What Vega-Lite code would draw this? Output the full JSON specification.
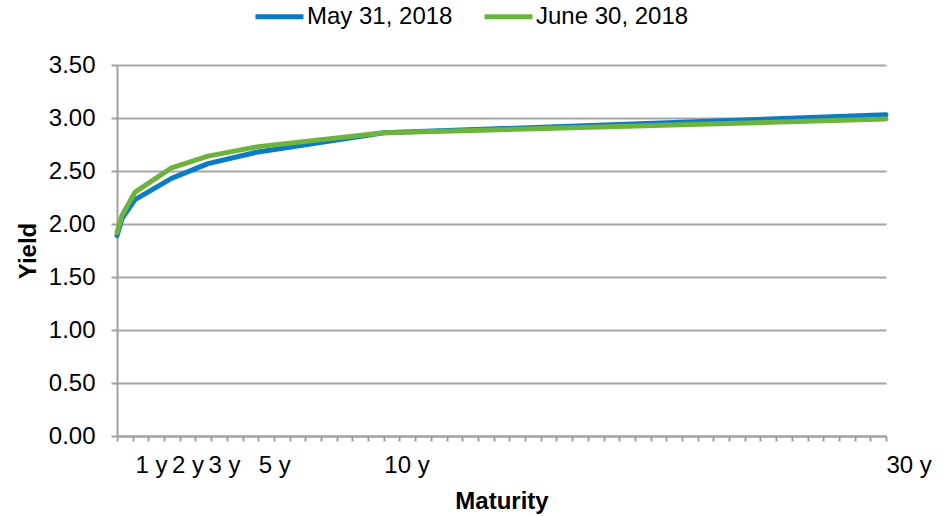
{
  "$schema": "https://vega.github.io/schema/vega-lite/v6.json",
  "width": 769,
  "height": 371,
  "autosize": {"type": "none"},
  "padding": {"left": 117, "top": 65, "right": 59, "bottom": 80},
  "background": "white",
  "config": {
    "view": {"stroke": null},
    "font": "Liberation Sans"
  },
  "data": {
    "values": [
      {"series": "May 31, 2018", "maturity": 0.25, "yield": 1.89},
      {"series": "May 31, 2018", "maturity": 0.5, "yield": 2.05},
      {"series": "May 31, 2018", "maturity": 1, "yield": 2.23},
      {"series": "May 31, 2018", "maturity": 2, "yield": 2.43},
      {"series": "May 31, 2018", "maturity": 3, "yield": 2.57},
      {"series": "May 31, 2018", "maturity": 5, "yield": 2.68},
      {"series": "May 31, 2018", "maturity": 10, "yield": 2.86},
      {"series": "May 31, 2018", "maturity": 30, "yield": 3.03},
      {"series": "June 30, 2018", "maturity": 0.25, "yield": 1.92},
      {"series": "June 30, 2018", "maturity": 0.5, "yield": 2.08},
      {"series": "June 30, 2018", "maturity": 1, "yield": 2.30},
      {"series": "June 30, 2018", "maturity": 2, "yield": 2.53},
      {"series": "June 30, 2018", "maturity": 3, "yield": 2.64},
      {"series": "June 30, 2018", "maturity": 5, "yield": 2.73},
      {"series": "June 30, 2018", "maturity": 10, "yield": 2.86},
      {"series": "June 30, 2018", "maturity": 30, "yield": 2.99}
    ]
  },
  "mark": {"type": "line", "strokeWidth": 5, "strokeJoin": "round", "strokeCap": "round"},
  "encoding": {
    "x": {
      "field": "maturity",
      "type": "quantitative",
      "scale": {"domain": [0.25, 0.5, 1, 3, 30], "range": [0, 5, 18, 91, 769], "nice": false, "zero": false},
      "axis": {
        "title": "Maturity",
        "titleFont": "Liberation Sans",
        "titleFontSize": 24,
        "titleFontWeight": "bold",
        "titleColor": "#000000",
        "titleX": 384.5,
        "titleY": 72,
        "titleAlign": "center",
        "titleBaseline": "alphabetic",
        "values": [0.25, 0.9113, 1, 1.3668, 1.7968, 2, 2.2267, 2.6567, 3, 3.125, 3.75, 4.375, 5, 5.625, 6.25, 6.875, 7.5, 8.125, 8.75, 9.375, 10, 10.625, 11.25, 11.875, 12.5, 13.125, 13.75, 14.375, 15, 15.625, 16.25, 16.875, 17.5, 18.125, 18.75, 19.375, 20, 20.625, 21.25, 21.875, 22.5, 23.125, 23.75, 24.375, 25, 25.625, 26.25, 26.875, 27.5, 28.125, 28.75, 29.375, 30],
        "labelExpr": "indexof([1,2,3,5,10,30], datum.value) >= 0 ? datum.value + ' y' : ''",
        "labelAlign": "left",
        "labelFlush": false,
        "labelOverlap": false,
        "labelBound": false,
        "labelFont": "Liberation Sans",
        "labelFontSize": 24,
        "labelColor": "#000000",
        "labelPadding": 12,
        "grid": false,
        "domainColor": "#a0a0a0",
        "domainWidth": 2,
        "tickColor": "#a0a0a0",
        "tickWidth": 2,
        "tickSize": 5,
        "tickOpacity": {"condition": {"test": "datum.value == 1 || datum.value == 2 || datum.value == 3", "value": 0}, "value": 1}
      }
    },
    "y": {
      "field": "yield",
      "type": "quantitative",
      "scale": {"domain": [0, 3.5], "nice": false},
      "axis": {
        "title": "Yield",
        "titleFont": "Liberation Sans",
        "titleFontSize": 24,
        "titleFontWeight": "bold",
        "titleColor": "#000000",
        "titleAngle": 270,
        "titleX": -82,
        "titleY": 185.5,
        "titleAlign": "center",
        "titleBaseline": "alphabetic",
        "values": [0, 0.5, 1, 1.5, 2, 2.5, 3, 3.5],
        "format": ".2f",
        "labelFont": "Liberation Sans",
        "labelFontSize": 24,
        "labelColor": "#000000",
        "labelPadding": 16,
        "grid": true,
        "gridColor": "#a6a6a6",
        "gridWidth": 2,
        "domainColor": "#a0a0a0",
        "domainWidth": 2,
        "tickColor": "#a0a0a0",
        "tickWidth": 2,
        "tickSize": 6
      }
    },
    "color": {
      "field": "series",
      "type": "nominal",
      "sort": ["May 31, 2018", "June 30, 2018"],
      "scale": {"domain": ["May 31, 2018", "June 30, 2018"], "range": ["#0a7bc4", "#6cb43e"]},
      "legend": {
        "title": null,
        "orient": "none",
        "legendX": 136,
        "legendY": -75,
        "direction": "horizontal",
        "symbolType": "stroke",
        "symbolSize": 2304,
        "symbolStrokeWidth": 5,
        "labelFont": "Liberation Sans",
        "labelFontSize": 24,
        "labelColor": "#000000",
        "labelOffset": 1,
        "columnPadding": 21,
        "padding": 0
      }
    }
  }
}
